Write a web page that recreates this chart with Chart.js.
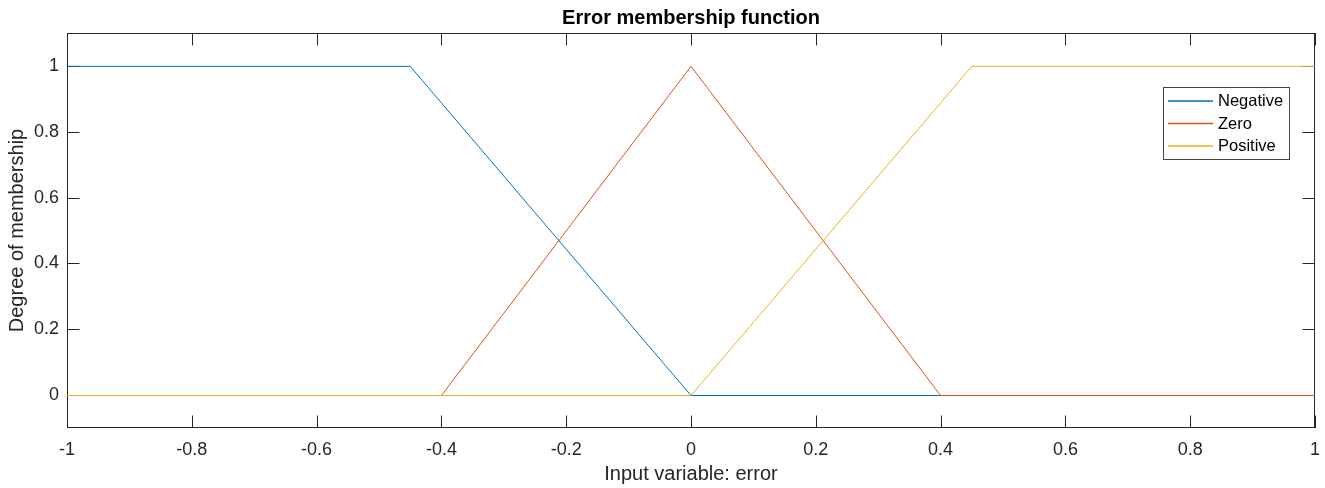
<!DOCTYPE html>
<html>
<head>
<meta charset="utf-8">
<script src="https://cdn.jsdelivr.net/npm/chart.js@4.4.1/dist/chart.umd.min.js"></script>
<style>
  html, body { margin: 0; padding: 0; background: #ffffff; }
  #wrap { width: 1325px; height: 488px; }
</style>
</head>
<body>
<div id="wrap"><canvas id="c" width="1325" height="488"></canvas></div>
<script>
// ---- data ----
const seriesNames = ["Negative", "Zero", "Positive"];
const negativeX = [-1, -0.45, 0, 1];
const negativeY = [1, 1, 0, 0];
const zeroX = [-1, -0.4, 0, 0.4, 1];
const zeroY = [0, 0, 1, 0, 0];
const positiveX = [-1, 0, 0.45, 1];
const positiveY = [0, 0, 1, 1];
const xTickValues = [-1, -0.8, -0.6, -0.4, -0.2, 0, 0.2, 0.4, 0.6, 0.8, 1];
const yTickValues = [0, 0.2, 0.4, 0.6, 0.8, 1];
const titleText = "Error membership function";
const xLabel = "Input variable: error";
const yLabel = "Degree of membership";

const colors = ["#0072BD", "#D95319", "#EDB120"];
const axisColor = "#262626";
const FONT = "'Liberation Sans', Arial, Helvetica, sans-serif";

function pts(xs, ys) { return xs.map((x, i) => ({ x: x, y: ys[i] })); }

const allSeries = [pts(negativeX, negativeY), pts(zeroX, zeroY), pts(positiveX, positiveY)];

const datasets = allSeries.map((d, i) => ({
  label: seriesNames[i],
  data: d,
  showLine: true,
  borderColor: colors[i],
  backgroundColor: colors[i],
  borderWidth: 1,
  pointRadius: 0,
  pointHoverRadius: 0,
  fill: false,
  tension: 0,
  order: 3 - i
}));

const boxPlugin = {
  id: 'matlabBox',
  beforeDatasetsDraw(chart) {
    const ctx = chart.ctx;
    const a = chart.chartArea;
    const xs = chart.scales.x, ys = chart.scales.y;
    const tl = 12.5;
    ctx.save();
    ctx.strokeStyle = axisColor;
    ctx.lineWidth = 1;
    ctx.beginPath();
    xs.ticks.forEach(t => {
      const px = Math.round(xs.getPixelForValue(t.value)) + 0.5;
      ctx.moveTo(px, a.bottom); ctx.lineTo(px, a.bottom - tl);
      ctx.moveTo(px, a.top); ctx.lineTo(px, a.top + tl);
    });
    ys.ticks.forEach(t => {
      const py = Math.round(ys.getPixelForValue(t.value)) + 0.5;
      ctx.moveTo(a.left, py); ctx.lineTo(a.left + tl, py);
      ctx.moveTo(a.right, py); ctx.lineTo(a.right - tl, py);
    });
    ctx.stroke();
    ctx.strokeRect(Math.round(a.left) + 0.5, Math.round(a.top) + 0.5,
                   Math.round(a.right - a.left) - 1, Math.round(a.bottom - a.top) - 1);
    ctx.restore();
    // snap the baseline (y = 0) to a pixel centre so overlapping lines stay crisp
    const p0 = ys.getPixelForValue(0);
    const dy = (Math.floor(p0) + 0.5) - p0;
    ctx.save();
    ctx.translate(0, dy);
  },
  afterDatasetsDraw(chart) {
    const ctx = chart.ctx;
    ctx.restore();
    ctx.save();
    const lx = 1163.5, ly = 87.5, lw = 126, lh = 72;
    ctx.fillStyle = '#ffffff';
    ctx.fillRect(lx, ly, lw, lh);
    ctx.strokeStyle = '#444444';
    ctx.lineWidth = 1;
    ctx.strokeRect(lx, ly, lw, lh);
    ctx.font = "16.5px " + FONT;
    ctx.textBaseline = 'middle';
    ctx.textAlign = 'left';
    chart.data.datasets.forEach((ds, i) => {
      const ry = 101 + i * 22.5;
      ctx.strokeStyle = ds.borderColor;
      ctx.lineWidth = 1.3;
      ctx.beginPath();
      ctx.moveTo(1168, ry); ctx.lineTo(1213, ry);
      ctx.stroke();
      ctx.fillStyle = '#000000';
      ctx.fillText(ds.label, 1218, ry + 0.5);
    });
    ctx.restore();
  }
};

new Chart(document.getElementById('c'), {
  type: 'scatter',
  data: { datasets: datasets },
  options: {
    responsive: false,
    animation: false,
    devicePixelRatio: 1,
    layout: { padding: { left: 0, right: 10, top: 0, bottom: 0 } },
    plugins: {
      legend: { display: false },
      tooltip: { enabled: false },
      title: {
        display: true,
        text: titleText,
        fullSize: false,
        color: '#000000',
        font: { family: FONT, size: 20, weight: 'bold', lineHeight: 1.2 },
        padding: { top: 6, bottom: 3 }
      }
    },
    scales: {
      x: {
        type: 'linear',
        min: -1, max: 1,
        afterBuildTicks: s => { s.ticks = xTickValues.map(v => ({ value: v })); },
        afterFit: s => { s.height = 60; s.paddingLeft = 0; s.paddingRight = 0; },
        grid: { display: false, drawTicks: false },
        border: { display: false },
        ticks: {
          color: axisColor, padding: 11, maxRotation: 0, autoSkip: false,
          font: { family: FONT, size: 18, lineHeight: 1.2 },
          callback: v => String(Math.round(v * 10) / 10)
        },
        title: {
          display: true, text: xLabel, color: axisColor,
          font: { family: FONT, size: 20, lineHeight: 1.2 },
          padding: { top: 0, bottom: 2 }
        }
      },
      y: {
        type: 'linear',
        min: -0.1, max: 1.1,
        afterBuildTicks: s => { s.ticks = yTickValues.map(v => ({ value: v })); },
        afterFit: s => { s.width = 67; s.paddingTop = 0; s.paddingBottom = 0; },
        grid: { display: false, drawTicks: false },
        border: { display: false },
        ticks: {
          color: axisColor, padding: 8,
          font: { family: FONT, size: 18, lineHeight: 1.2 },
          callback: v => String(Math.round(v * 10) / 10)
        },
        title: {
          display: true, text: yLabel, color: axisColor,
          font: { family: FONT, size: 20, lineHeight: 1.2 },
          padding: { top: 5, bottom: 0 }
        }
      }
    }
  },
  plugins: [boxPlugin]
});
</script>
</body>
</html>
